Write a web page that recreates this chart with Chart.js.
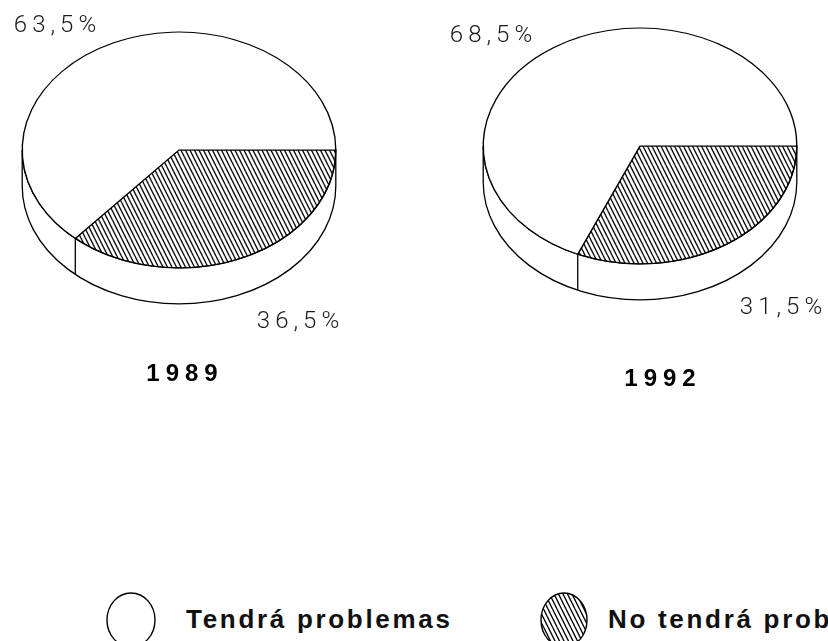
<!DOCTYPE html>
<html><head><meta charset="utf-8">
<script src="https://cdn.jsdelivr.net/npm/chart.js@4.4.1/dist/chart.umd.min.js"></script>
<style>
html,body{margin:0;padding:0;background:#fff;width:828px;height:641px;overflow:hidden;}
#wrap{position:relative;width:828px;height:641px;overflow:hidden;background:#fff;}
canvas.pie{position:absolute;}
.lg{position:absolute;left:0;top:0;white-space:nowrap;font-family:"Liberation Sans",Arial,sans-serif;font-weight:bold;color:#111;}
.lg canvas{position:absolute;}
.lg span{position:absolute;}
</style></head><body>
<div id="wrap">
<canvas id="c1" class="pie"></canvas>
<canvas id="c2" class="pie"></canvas>
<div id="legend"></div>
</div>
<script>
// ---- data ----
const categories = ['Tendrá problemas', 'No tendrá problemas'];
const years = ['1989', '1992'];
const values1989 = [63.5, 36.5];
const values1992 = [68.5, 31.5];

// ---- layout / style ----
const SQUISH = 0.752;   // vertical tilt of the pie
const DEPTH = 36;       // thickness of the pie side
const fmt = v => v.toFixed(1).replace('.', ',') + '%';

function makeHatch(ctx, sy) {
  const t = document.createElement('canvas');
  t.width = 9; t.height = 18;
  const g = t.getContext('2d');
  g.strokeStyle = '#000'; g.lineWidth = 1.3;
  g.beginPath();
  for (const o of [-9, -4.5, 0, 4.5, 9]) { g.moveTo(o, 0); g.lineTo(o + 9, 18); }
  g.stroke();
  const p = ctx.createPattern(t, 'repeat');
  if (sy) p.setTransform(new DOMMatrix([1, 0, 0, 1 / sy, 0, 0]));
  return p;
}

function drawSpaced(ctx, text, x, y, ls) {
  ctx.letterSpacing = ls + 'px';
  const w = ctx.measureText(text).width;
  ctx.textAlign = 'left';
  ctx.fillText(text, x - (w - ls) / 2, y);
  ctx.letterSpacing = '0px';
}

const pie3d = {
  id: 'pie3d',
  beforeDatasetsDraw(chart, args, o) {
    const arcs = chart.getDatasetMeta(0).data;
    const a0 = arcs[0];
    const cx = a0.x, cy = a0.y, rx = a0.outerRadius, ry = rx * o.k, d = o.depth;
    const ctx = chart.ctx;
    ctx.save();
    ctx.lineWidth = 1.3; ctx.strokeStyle = '#000'; ctx.fillStyle = '#fff';
    ctx.beginPath();
    ctx.moveTo(cx - rx, cy);
    ctx.lineTo(cx - rx, cy + d);
    ctx.ellipse(cx, cy + d, rx, ry, 0, Math.PI, 0, true);
    ctx.lineTo(cx + rx, cy);
    ctx.ellipse(cx, cy, rx, ry, 0, 0, Math.PI, false);
    ctx.closePath();
    ctx.fill(); ctx.stroke();
    ctx.beginPath();
    arcs.forEach(a => {
      [a.startAngle, a.endAngle].forEach(ang => {
        let t = ang % (2 * Math.PI); if (t < 0) t += 2 * Math.PI;
        if (t > 0.03 && t < Math.PI - 0.03) {
          const x = cx + rx * Math.cos(t), y = cy + ry * Math.sin(t);
          ctx.moveTo(x, y); ctx.lineTo(x, y + d);
        }
      });
    });
    ctx.stroke();
    ctx.restore();
    ctx.save();
    ctx.translate(cx, cy); ctx.scale(1, o.k); ctx.translate(-cx, -cy);
  },
  afterDatasetsDraw(chart, args, o) {
    const ctx = chart.ctx;
    ctx.restore();
    const a0 = chart.getDatasetMeta(0).data[0];
    const cx = a0.x, cy = a0.y;
    ctx.save();
    ctx.fillStyle = '#1a1a1a';
    ctx.textBaseline = 'middle';
    ctx.font = '300 24px Roboto, "Liberation Sans", sans-serif';
    o.values.forEach((v, i) => {
      drawSpaced(ctx, fmt(v), cx + o.labelOffsets[i][0], cy + o.labelOffsets[i][1], 5);
    });
    ctx.fillStyle = '#000';
    ctx.font = 'bold 24px "Liberation Sans", Arial, sans-serif';
    drawSpaced(ctx, o.year, cx + o.yearOffset[0], cy + o.yearOffset[1], 6);
    ctx.restore();
  }
};

function makePie(id, vals, year, box, pad, labelOffsets, yearOffset) {
  const cv = document.getElementById(id);
  cv.width = box.w; cv.height = box.h;
  cv.style.left = box.x + 'px'; cv.style.top = box.y + 'px';
  const hatch = makeHatch(cv.getContext('2d'), SQUISH);
  return new Chart(cv, {
    type: 'pie',
    data: {
      labels: [categories[1], categories[0]],
      datasets: [{
        data: [vals[1], vals[0]],
        backgroundColor: [hatch, '#ffffff'],
        borderColor: '#000',
        borderWidth: 1.4,
        borderJoinStyle: 'miter'
      }]
    },
    options: {
      responsive: false, animation: false, events: [],
      rotation: 90,
      layout: { padding: pad },
      plugins: {
        legend: { display: false }, tooltip: { enabled: false },
        pie3d: { k: SQUISH, depth: DEPTH, values: [vals[1], vals[0]], year: year,
                 labelOffsets: labelOffsets, yearOffset: yearOffset }
      }
    },
    plugins: [pie3d]
  });
}

// pie 1 (1989): centre at page (179,150)
makePie('c1', values1989, years[0], { x: 0, y: -20, w: 414, h: 420 },
  { left: 21.5, top: 12.5, right: 77.5, bottom: 92.5 },
  [[119, 172], [-124, -124]], [3, 224]);
// pie 2 (1992): centre at page (640,146)
makePie('c2', values1992, years[1], { x: 414, y: -20, w: 414, h: 420 },
  { left: 68.5, top: 8.5, right: 30.5, bottom: 96.5 },
  [[141, 162], [-149, -110]], [20, 233]);

// ---- legend ----
const legendItems = [
  { sym: { cx: 131, cy: 620, rx: 24, ry: 27 }, text: { x: 186, y: 619 } },
  { sym: { cx: 564, cy: 620, rx: 23, ry: 27 }, text: { x: 608, y: 619 } }
];
const lg = document.getElementById('legend');
categories.forEach((c, i) => {
  const it = legendItems[i];
  const box = document.createElement('div');
  box.className = 'lg';
  const sc = document.createElement('canvas');
  const s = it.sym;
  sc.width = s.rx * 2 + 4; sc.height = s.ry * 2 + 4;
  sc.style.left = (s.cx - s.rx - 2) + 'px'; sc.style.top = (s.cy - s.ry - 2) + 'px';
  const g = sc.getContext('2d');
  g.beginPath();
  g.ellipse(sc.width / 2, sc.height / 2, s.rx, s.ry, 0, 0, 2 * Math.PI);
  g.fillStyle = i === 0 ? '#fff' : makeHatch(g, 0);
  g.fill();
  g.lineWidth = 1.4; g.strokeStyle = '#000'; g.stroke();
  const sp = document.createElement('span');
  sp.textContent = c;
  sp.style.left = it.text.x + 'px';
  sp.style.top = (it.text.y - 16) + 'px';
  sp.style.fontSize = '26px';
  sp.style.letterSpacing = '2.7px';
  sp.style.lineHeight = '32px';
  box.appendChild(sc); box.appendChild(sp);
  lg.appendChild(box);
});
</script>
</body></html>
